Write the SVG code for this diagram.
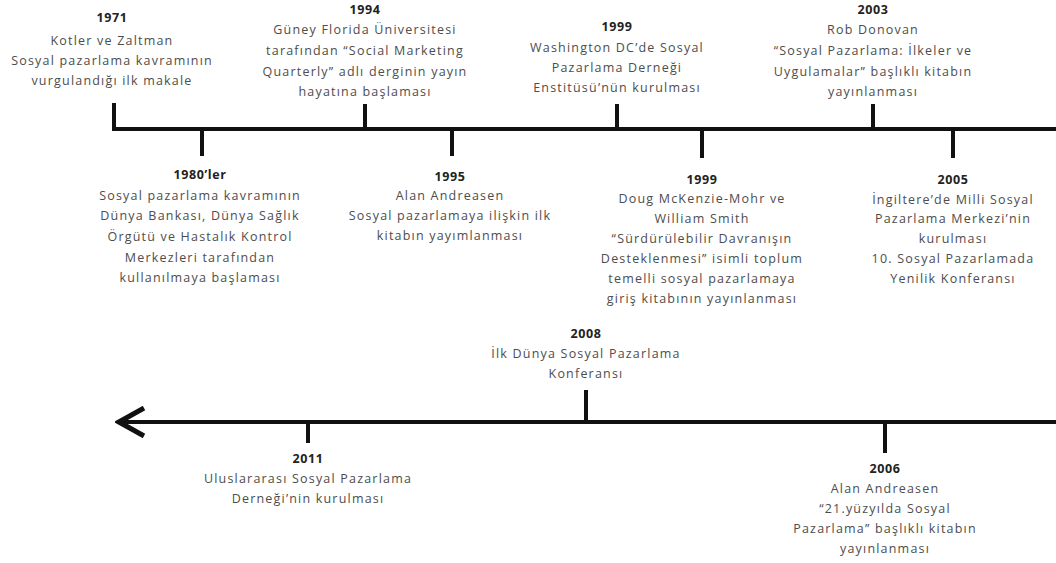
<svg xmlns="http://www.w3.org/2000/svg" width="1056" height="563" viewBox="0 0 1056 563">
<defs>
<style>
.t{font-family:"Open Sans","Liberation Sans",sans-serif;font-size:12.5px;fill:#4d4d4d;text-anchor:middle;letter-spacing:1.2px}
.y{font-weight:bold;fill:#222;letter-spacing:0.6px}
.ln{stroke:#111;stroke-width:4;fill:none}
</style>
<marker id="arr" viewBox="0 0 32 32" refX="27" refY="16" markerWidth="32" markerHeight="32" markerUnits="userSpaceOnUse" orient="auto">
<path d="M3 2 L28 16 L3 30" fill="none" stroke="#111" stroke-width="5"/>
</marker>
</defs>
<rect width="1056" height="563" fill="#fff"/>
<g id="connectors">
<path class="ln" d="M114 103 V129 H1056"/>
<line class="ln" x1="365" y1="104" x2="365" y2="129"/>
<line class="ln" x1="617" y1="104" x2="617" y2="129"/>
<line class="ln" x1="873" y1="104" x2="873" y2="129"/>
<line class="ln" x1="202" y1="129" x2="202" y2="156"/>
<line class="ln" x1="452" y1="129" x2="452" y2="156"/>
<line class="ln" x1="702" y1="129" x2="702" y2="158"/>
<line class="ln" x1="953" y1="129" x2="953" y2="158"/>
<line class="ln" x1="1056" y1="422" x2="120" y2="422" marker-end="url(#arr)"/>
<line class="ln" x1="586" y1="390" x2="586" y2="422"/>
<line class="ln" x1="308" y1="422" x2="308" y2="443"/>
<line class="ln" x1="885" y1="422" x2="885" y2="453"/>
</g>
<g id="e1971">
<text x="112" y="22" class="t y">1971</text>
<text x="112" y="45" class="t">Kotler ve Zaltman</text>
<text x="112" y="65" class="t">Sosyal pazarlama kavramının</text>
<text x="112" y="85" class="t">vurgulandığı ilk makale</text>
</g>
<g id="e1994">
<text x="365" y="14" class="t y">1994</text>
<text x="365" y="34" class="t">Güney Florida Üniversitesi</text>
<text x="365" y="55" class="t">tarafından “Social Marketing</text>
<text x="365" y="76" class="t">Quarterly” adlı derginin yayın</text>
<text x="365" y="96" class="t">hayatına başlaması</text>
</g>
<g id="e1999a">
<text x="617" y="31" class="t y">1999</text>
<text x="617" y="52" class="t">Washington DC’de Sosyal</text>
<text x="617" y="72" class="t">Pazarlama Derneği</text>
<text x="617" y="92" class="t">Enstitüsü’nün kurulması</text>
</g>
<g id="e2003">
<text x="873" y="14" class="t y">2003</text>
<text x="873" y="34" class="t">Rob Donovan</text>
<text x="873" y="55" class="t">“Sosyal Pazarlama: İlkeler ve</text>
<text x="873" y="76" class="t">Uygulamalar” başlıklı kitabın</text>
<text x="873" y="96" class="t">yayınlanması</text>
</g>
<g id="e1980">
<text x="200" y="179" class="t y">1980’ler</text>
<text x="200" y="200" class="t">Sosyal pazarlama kavramının</text>
<text x="200" y="220" class="t">Dünya Bankası, Dünya Sağlık</text>
<text x="200" y="241" class="t">Örgütü ve Hastalık Kontrol</text>
<text x="200" y="262" class="t">Merkezleri tarafından</text>
<text x="200" y="282" class="t">kullanılmaya başlaması</text>
</g>
<g id="e1995">
<text x="450" y="181" class="t y">1995</text>
<text x="450" y="200" class="t">Alan Andreasen</text>
<text x="450" y="220" class="t">Sosyal pazarlamaya ilişkin ilk</text>
<text x="450" y="240" class="t">kitabın yayımlanması</text>
</g>
<g id="e1999b">
<text x="702" y="184" class="t y">1999</text>
<text x="702" y="203" class="t">Doug McKenzie-Mohr ve</text>
<text x="702" y="223" class="t">William Smith</text>
<text x="702" y="243" class="t">“Sürdürülebilir Davranışın</text>
<text x="702" y="263" class="t">Desteklenmesi” isimli toplum</text>
<text x="702" y="283" class="t">temelli sosyal pazarlamaya</text>
<text x="702" y="303" class="t">giriş kitabının yayınlanması</text>
</g>
<g id="e2005">
<text x="953" y="184" class="t y">2005</text>
<text x="953" y="204" class="t">İngiltere’de Milli Sosyal</text>
<text x="953" y="223" class="t">Pazarlama Merkezi’nin</text>
<text x="953" y="243" class="t">kurulması</text>
<text x="953" y="263" class="t">10. Sosyal Pazarlamada</text>
<text x="953" y="283" class="t">Yenilik Konferansı</text>
</g>
<g id="e2008">
<text x="586" y="338" class="t y">2008</text>
<text x="586" y="358" class="t">İlk Dünya Sosyal Pazarlama</text>
<text x="586" y="378" class="t">Konferansı</text>
</g>
<g id="e2011">
<text x="308" y="463" class="t y">2011</text>
<text x="308" y="483" class="t">Uluslararası Sosyal Pazarlama</text>
<text x="308" y="503" class="t">Derneği’nin kurulması</text>
</g>
<g id="e2006">
<text x="885" y="473" class="t y">2006</text>
<text x="885" y="493" class="t">Alan Andreasen</text>
<text x="885" y="513" class="t">“21.yüzyılda Sosyal</text>
<text x="885" y="533" class="t">Pazarlama” başlıklı kitabın</text>
<text x="885" y="553" class="t">yayınlanması</text>
</g>
</svg>
